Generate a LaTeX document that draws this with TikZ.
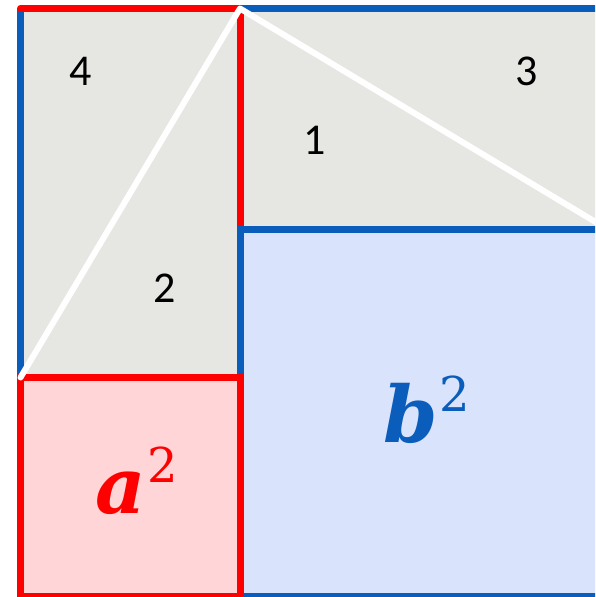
\documentclass[tikz,border=0pt]{standalone}
\usepackage{fontspec}
\setmainfont{Carlito}
\newfontfamily\sqfont{DejaVu Serif}
\definecolor{myred}{RGB}{255,0,0}
\definecolor{myblue}{RGB}{10,93,186}
\definecolor{mygray}{RGB}{230,230,226}
\definecolor{mypink}{RGB}{255,213,215}
\definecolor{mylightblue}{RGB}{218,227,252}

\begin{document}
\begin{tikzpicture}[x=1pt, y=-1pt,
    edge/.style={line width=7pt},
    hyp/.style={white, line width=6pt, line cap=round, line join=round},
    num/.style={font=\fontsize{44}{44}\selectfont, text=black, inner sep=0pt},
    sq/.style={font=\sqfont\fontsize{78}{78}\selectfont\bfseries\itshape, inner sep=0pt, anchor=base west}]
    \clip (0,0) rectangle (595,597);

    % 各顶点 (右侧超出画面, 被裁掉)
    \coordinate (A) at (20.5,8.5);
    \coordinate (B) at (240,8.5);
    \coordinate (C) at (608,8.5);
    \coordinate (D) at (240,229.5);
    \coordinate (E) at (608,229.5);
    \coordinate (F) at (20.5,377.5);
    \coordinate (G) at (240,377.5);
    \coordinate (H) at (20.5,596.5);
    \coordinate (K) at (240,596.5);
    \coordinate (L) at (608,596.5);

    % --- 填充 ---
    \fill[mygray] (A) rectangle (G);
    \fill[mygray] (B) rectangle (E);
    \fill[mypink] (F) rectangle (K);
    \fill[mylightblue] (D) rectangle (L);

    % --- 边框 ---
    \draw[edge, myblue] (F) -- (A);
    \draw[edge, myred, line cap=round] (A) -- (B) -- (D);
    \draw[edge, myblue] (B) -- (C);
    \draw[edge, myblue] (E) -- (D) -- (K) -- (L);
    \draw[edge, myred] (F) rectangle (K);

    % 斜边 c
    \draw[hyp] (F) -- (B) -- (E);

    % 三角形编号
    \node[num] (n4) at (81,71) {4};
    \node[num] (n3) at (527,71) {3};
    \node[num] (n1) at (315,140) {1};
    \node[num] (n2) at (165,288) {2};

    % 面积
    \node[sq, text=myred] (asq) at (95,513) {a\hspace{2pt}\raisebox{31pt}{\fontsize{48}{48}\selectfont\mdseries\upshape 2}};
    \node[sq, text=myblue] (bsq) at (383,442) {b\hspace{2pt}\raisebox{31pt}{\fontsize{48}{48}\selectfont\mdseries\upshape 2}};
\end{tikzpicture}
\end{document}
